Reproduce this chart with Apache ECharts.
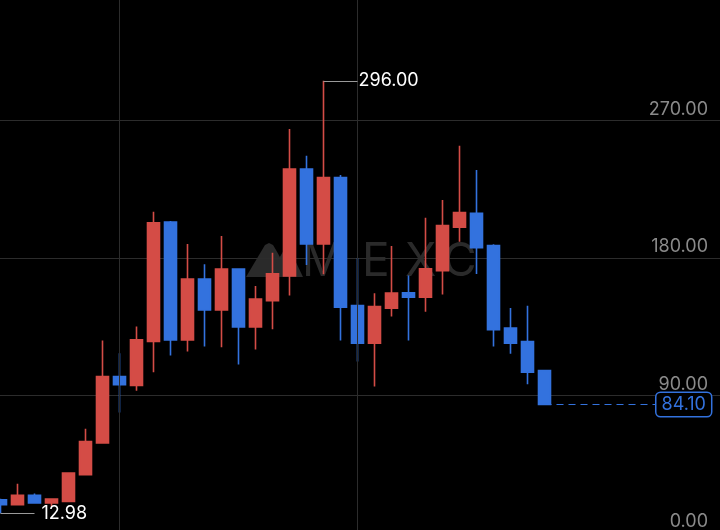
<!DOCTYPE html>
<html>
<head>
<meta charset="utf-8">
<script src="https://cdn.jsdelivr.net/npm/echarts@6/dist/echarts.min.js"></script>
<style>
  html, body { margin: 0; padding: 0; background: #000; }
  #chart { width: 720px; height: 530px; }
</style>
</head>
<body>
<div id="chart"></div>
<script>
// candle values (open, close, low, high)
const opens  = [21.8, 18.5, 24.6, 19.6, 20.7, 38.1, 58.9, 102.4, 96.5, 125.3, 203.6, 126.4, 166.3, 146.0, 172.7, 134.9, 152.1, 168.3, 238.3, 189.2, 232.6, 148.9, 124.3, 147.2, 157.2, 154.4, 171.7, 200.1, 209.3, 188.1, 134.1, 125.3, 106.3]
const closes = [18.5, 24.6, 19.6, 22.2, 39.2, 59.9, 102.4, 97.0, 126.4, 203.1, 126.4, 166.3, 146.0, 172.7, 134.9, 153.2, 169.6, 238.3, 189.2, 232.6, 147.8, 124.3, 148.2, 157.0, 154.4, 172.9, 201.2, 209.7, 186.8, 133.0, 124.3, 105.3, 84.1]
const lows   = [12.98, 18.0, 19.4, 17.4, 20.7, 38.0, 58.9, 78.9, 93.1, 105.3, 116.2, 118.8, 122.0, 121.6, 110.3, 120.1, 133.4, 155.4, 175.5, 169.4, 126.0, 112.2, 95.9, 141.7, 126.0, 144.9, 156.1, 190.7, 169.6, 122.0, 117.3, 97.4, 84.1]
const highs  = [22.5, 32.2, 25.9, 22.4, 39.2, 68.2, 126.0, 117.7, 135.1, 210.3, 204.3, 189.2, 175.9, 194.4, 173.0, 161.7, 183.5, 264.4, 247.0, 296.0, 234.3, 179.9, 157.0, 187.9, 168.5, 206.4, 218.0, 253.5, 237.6, 189.0, 147.2, 148.7, 106.5]

// 43 slots on the time axis, the last ten are still empty
const categories = Array.from({ length: 43 }, (_, i) => String(i + 1))
const yTicks = [0, 90, 180, 270, 360]
const vLines = [7, 21]

const UP = '#d44c46'
const DOWN = '#3372de'
const GRID = '#2c2c2c'
const MARK = '#2a2a2a'

const candles = opens.map((o, i) => [o, closes[i], lows[i], highs[i]])

const maxHigh = Math.max(...highs)
const maxIdx = highs.indexOf(maxHigh)
const minLow = Math.min(...lows)
const minIdx = lows.indexOf(minLow)
const lastIdx = closes.length - 1
const lastClose = closes[lastIdx]

const chart = echarts.init(document.getElementById('chart'))

const letter = (t, x) => ({
  type: 'text',
  style: { text: t, x: x, y: 262, fill: MARK, fontSize: 46, fontFamily: 'Inter', fontWeight: 'normal', verticalAlign: 'middle' }
})

const option = {
  backgroundColor: '#000',
  animation: false,
  grid: { left: -8, right: -3, top: -17, bottom: -3, outerBoundsMode: 'none', containLabel: false },
  xAxis: {
    type: 'category',
    data: categories,
    axisLine: { show: false },
    axisTick: { show: false },
    axisLabel: { show: false },
    splitLine: { show: false }
  },
  yAxis: {
    type: 'value',
    position: 'right',
    min: yTicks[0],
    max: yTicks[yTicks.length - 1],
    interval: yTicks[1] - yTicks[0],
    axisLine: { show: false },
    axisTick: { show: false },
    splitLine: { lineStyle: { color: GRID, width: 1 } },
    axisLabel: {
      inside: true,
      margin: 15,
      color: '#8a8a8a',
      fontSize: 18,
      fontFamily: 'Inter',
      verticalAlign: 'bottom',
      padding: [0, 0, 2, 0],
      formatter: (v) => v.toFixed(2)
    }
  },
  graphic: [
    {
      // watermark
      type: 'group',
      z: 1,
      silent: true,
      children: [
        {
          type: 'polygon',
          shape: { points: [[246, 277], [262, 250], [265, 245], [269, 243], [273, 245], [276, 250], [291, 277]] },
          style: { fill: MARK }
        },
        {
          type: 'polygon',
          shape: { points: [[268, 277], [281, 255], [284, 250], [287, 249], [290, 251], [293, 256], [303, 277]] },
          style: { fill: MARK }
        },
        letter('M', 302),
        letter('E', 362),
        letter('X', 405),
        letter('C', 443)
      ]
    }
  ],
  series: [
    {
      // vertical grid lines, kept behind the candles
      type: 'line',
      data: [],
      z: 1,
      markLine: {
        silent: true,
        symbol: ['none', 'none'],
        label: { show: false },
        lineStyle: { color: GRID, type: 'solid', width: 1 },
        data: vLines.map(i => ({ xAxis: i }))
      }
    },
    {
      type: 'candlestick',
      data: candles,
      barWidth: 12,
      z: 3,
      itemStyle: {
        color: UP,
        color0: DOWN,
        borderColor: UP,
        borderColor0: DOWN,
        borderWidth: 1.6
      },
      markLine: {
        silent: true,
        symbol: ['none', 'none'],
        animation: false,
        data: [
          [
            { coord: [maxIdx, maxHigh], lineStyle: { color: '#9a9a9a', type: 'solid', width: 1 } },
            {
              coord: [maxIdx + 2, maxHigh],
              label: {
                show: true, position: 'end', distance: 1,
                formatter: maxHigh.toFixed(2),
                color: '#ffffff', fontSize: 18, fontFamily: 'Inter'
              }
            }
          ],
          [
            { coord: [minIdx, minLow], lineStyle: { color: '#9a9a9a', type: 'solid', width: 1 } },
            {
              coord: [minIdx + 2, minLow],
              label: {
                show: true, position: 'end', distance: 7,
                formatter: minLow.toFixed(2),
                color: '#ffffff', fontSize: 18, fontFamily: 'Inter'
              }
            }
          ],
          [
            { coord: [lastIdx, lastClose], lineStyle: { color: DOWN, type: [7, 5], width: 1.2 } },
            {
              coord: [lastIdx + 7, lastClose],
              label: {
                show: true, position: 'end', distance: -7,
                formatter: lastClose.toFixed(2),
                color: DOWN, fontSize: 18, fontFamily: 'Inter',
                backgroundColor: '#000',
                borderColor: DOWN, borderWidth: 1.5, borderRadius: 4,
                padding: [3, 5, 2, 5]
              }
            }
          ]
        ]
      }
    }
  ]
}

chart.setOption(option)

window.addEventListener('resize', () => {
  chart?.resize()
})
</script>
</body>
</html>
